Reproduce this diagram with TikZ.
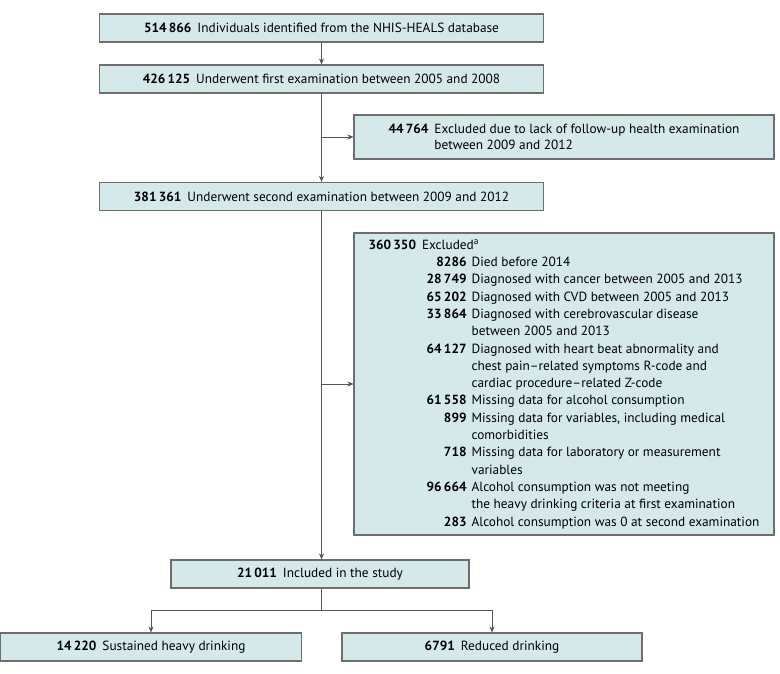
\documentclass[tikz,border=0pt]{standalone}
\usepackage{fontspec}
\setmainfont{PT Sans}
\usetikzlibrary{arrows.meta}
\definecolor{boxfill}{HTML}{D5E9EB}
\definecolor{boxline}{HTML}{6E6E6E}
\definecolor{flowline}{HTML}{555555}
\newcommand{\exnum}[1]{\makebox[98pt][r]{\bfseries #1}\hspace{5pt}}
\newcommand{\exgap}{\hspace*{103pt}}
\begin{document}
\begin{tikzpicture}[x=1pt,y=-1pt,
	flowbox/.style={draw=boxline,fill=boxfill,line width=1.1pt,inner sep=0pt,minimum height=28pt,font=\fontsize{13.3}{15}\selectfont},
	flowarrow/.style={draw=flowline,line width=0.8pt,-{Stealth[length=6pt,width=5pt]}}]
	\useasboundingbox (0,0) rectangle (780,674);
	\node [flowbox,minimum width=444pt] (ident) at (321.5,28) {\textbf{514\,866}\hspace{6pt}Individuals identified from the NHIS-HEALS database};
	\node [flowbox,minimum width=444pt] (first) at (321.5,79) {\textbf{426\,125}\hspace{6pt}Underwent first examination between 2005 and 2008};
	\node [flowbox,minimum width=420pt,minimum height=44pt,align=left,font=\fontsize{13.3}{15.5}\selectfont] (excl1) at (564,137) {\textbf{44\,764}\hspace{6pt}Excluded due to lack of follow-up health examination\\\phantom{\textbf{44\,764}}\hspace{6pt}between 2009 and 2012};
	\node [flowbox,minimum width=444pt] (second) at (321.5,196.5) {\textbf{381\,361}\hspace{6pt}Underwent second examination between 2009 and 2012};
	\node [flowbox,minimum width=420pt,minimum height=302pt,align=left,font=\fontsize{13.3}{17.3}\selectfont] (excl2) at (564,384) {\textbf{360\,350}\hspace{6pt}Excluded\textsuperscript{a}\\
		\exnum{8286}Died before 2014\\
		\exnum{28\,749}Diagnosed with cancer between 2005 and 2013\\
		\exnum{65\,202}Diagnosed with CVD between 2005 and 2013\\
		\exnum{33\,864}Diagnosed with cerebrovascular disease\\
		\exgap between 2005 and 2013\\
		\exnum{64\,127}Diagnosed with heart beat abnormality and\\
		\exgap chest pain--related symptoms R-code and\\
		\exgap cardiac procedure--related Z-code\\
		\exnum{61\,558}Missing data for alcohol consumption\\
		\exnum{899}Missing data for variables, including medical\\
		\exgap comorbidities\\
		\exnum{718}Missing data for laboratory or measurement\\
		\exgap variables\\
		\exnum{96\,664}Alcohol consumption was not meeting\\
		\exgap the heavy drinking criteria at first examination\\
		\exnum{283}Alcohol consumption was 0 at second examination};
	\node [flowbox,minimum width=298pt] (incl) at (320,574) {\textbf{21\,011}\hspace{6pt}Included in the study};
	\node [flowbox,minimum width=301pt] (sust) at (151,647) {\textbf{14\,220}\hspace{6pt}Sustained heavy drinking};
	\node [flowbox,minimum width=300pt] (red) at (492,647) {\textbf{6791}\hspace{6pt}Reduced drinking};
	\coordinate (split) at (321.5,610);
	\draw [flowarrow] (ident.south) -- (first.north);
	\draw [flowarrow] (first.south) -- (second.north);
	\draw [flowarrow] (excl1.west -| first.south) -- (excl1.west);
	\draw [flowarrow] (second.south) -- (second.south |- incl.north);
	\draw [flowarrow] (excl2.west -| second.south) -- (excl2.west);
	\draw [draw=flowline,line width=0.8pt] (incl.south -| split) -- (split);
	\draw [flowarrow] (split) -| (sust.north);
	\draw [flowarrow] (split) -| (red.north);
\end{tikzpicture}
\end{document}
